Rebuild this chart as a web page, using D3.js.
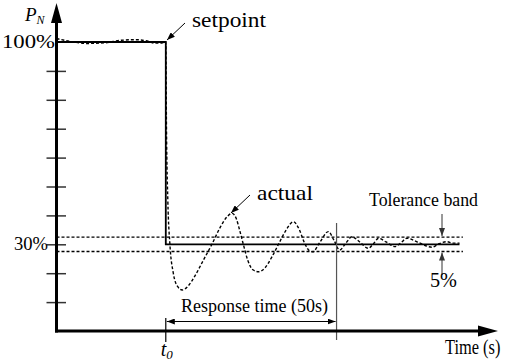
<!DOCTYPE html>
<html>
<head>
<meta charset="utf-8">
<script src="https://cdn.jsdelivr.net/npm/d3@7"></script>
<style>
  html, body { margin: 0; padding: 0; background: #fff; }
  svg { display: block; }
  svg text { font-family: "Liberation Serif", "Tinos", "Times New Roman", "DejaVu Serif", serif; fill: #000; }
</style>
</head>
<body>
<svg id="chart" width="505" height="362"></svg>
<script>
// Step response of normalised power P_N after a setpoint change at t0.
const t0 = 32;                 // s, time of the setpoint step
const responseTime = 50;       // s, until the response stays inside the band
const setpointBefore = 100;    // %
const setpointAfter = 30;      // %
const bandWidth = 5;           // %, full width of the tolerance band
const timeEnd = 118;           // s, end of the plotted setpoint / response

const yTickValues = [10, 20, 30, 40, 50, 60, 70, 80, 90];
const yLabelValues = [100, 30];
const yLabelText = ["100%", "30%"];

// Measured actual response (time in s, P_N in %)
const actualTime = [0, 4, 9, 14, 19, 23, 27, 28.5, 30.5, 32,
  32.2, 32.6, 33.2, 34.2, 35.4, 36.8, 38.5, 40.5, 43, 45.5, 48, 50, 51.4,
  52.6, 53.6, 54.7, 56, 57.5, 59.2, 61, 63, 65, 67, 69.4, 70.8, 72.8, 74,
  75.1, 77, 79.6, 81.2, 82.9, 84.5, 86.5, 88.8, 91.3, 92.8, 94.3, 96.5,
  99.1, 100.8, 102.6, 106, 109.9, 112, 114.3, 116, 118];
const actualValue = [101.2, 100.2, 99.5, 99.7, 100.6, 100.8, 100.2, 99.6, 99.6, 100,
  70, 45, 30, 20, 15.5, 14.2, 15.5, 19, 24.5, 30, 36, 39.6, 40.7,
  39, 35, 30, 24.5, 21.2, 20.5, 21.8, 25.5, 30, 34.5, 37.8, 35.8, 30, 27.8,
  27.4, 30.5, 34.4, 31.5, 28, 30, 32.6, 30.8, 28.6, 30.2, 32.1, 30.8,
  29.2, 30.5, 32.1, 30.6, 29, 30.2, 30.9, 30.4, 30.4];

const setpointTime = [0, t0, t0, timeEnd];
const setpointValue = [setpointBefore, setpointBefore, setpointAfter, setpointAfter];

const svg = d3.select("#chart");

const x = d3.scaleLinear().domain([0, 124]).range([56.5, 480]);
const y = d3.scaleLinear().domain([0, 100]).range([331, 42]);

// arrowhead markers
const defs = svg.append("defs");
function marker(id, w, h, color) {
  defs.append("marker")
    .attr("id", id)
    .attr("viewBox", `0 0 ${w} ${h}`)
    .attr("refX", w).attr("refY", h / 2)
    .attr("markerWidth", w).attr("markerHeight", h)
    .attr("markerUnits", "userSpaceOnUse")
    .attr("orient", "auto-start-reverse")
    .append("path")
    .attr("d", `M0,0L${w},${h / 2}L0,${h}Z`)
    .attr("fill", color);
}
marker("arr", 8, 6, "#000");
marker("arrGray", 8, 6, "#333");

// tolerance band
const band = [setpointAfter + bandWidth / 2, setpointAfter - bandWidth / 2];
svg.selectAll("line.band").data(band).join("line")
  .attr("class", "band")
  .attr("x1", x(0)).attr("x2", x(119))
  .attr("y1", d => y(d)).attr("y2", d => y(d))
  .attr("stroke", "#000").attr("stroke-width", 1.4)
  .attr("stroke-dasharray", "3,2");

// y axis ticks crossing the axis
const yAxis = d3.axisLeft(y).tickValues(yTickValues).tickSize(0).tickFormat("");
const gy = svg.append("g").attr("transform", `translate(${x(0)},0)`).call(yAxis);
gy.select(".domain").remove();
gy.selectAll(".tick line")
  .attr("x1", -10).attr("x2", 9.5)
  .attr("stroke", "#333").attr("stroke-width", 1.5);

// setpoint
const line = d3.line().x(d => x(d[0])).y(d => y(d[1]));
svg.append("path")
  .datum(d3.zip(setpointTime, setpointValue))
  .attr("d", line)
  .attr("fill", "none").attr("stroke", "#000").attr("stroke-width", 1.8);

// actual response
const smooth = d3.line().x(d => x(d[0])).y(d => y(d[1])).curve(d3.curveMonotoneX);
svg.append("path")
  .datum(d3.zip(actualTime, actualValue))
  .attr("d", smooth)
  .attr("fill", "none").attr("stroke", "#000").attr("stroke-width", 1.4)
  .attr("stroke-dasharray", "3,2");

// end of response time
svg.append("line")
  .attr("x1", x(t0 + responseTime)).attr("x2", x(t0 + responseTime))
  .attr("y1", 223).attr("y2", 340)
  .attr("stroke", "#555").attr("stroke-width", 1.2);

// t0 marker
svg.append("line")
  .attr("x1", x(t0)).attr("x2", x(t0))
  .attr("y1", 318).attr("y2", 342)
  .attr("stroke", "#000").attr("stroke-width", 1.2);

// response time double arrow
svg.append("line")
  .attr("x1", x(t0) + 1).attr("x2", x(t0 + responseTime) - 1)
  .attr("y1", 321.5).attr("y2", 321.5)
  .attr("stroke", "#000").attr("stroke-width", 1)
  .attr("marker-start", "url(#arr)").attr("marker-end", "url(#arr)");

// main axes with arrowheads
svg.append("line")
  .attr("x1", x(0)).attr("x2", x(0)).attr("y1", y(0) + 1.5).attr("y2", 22)
  .attr("stroke", "#000").attr("stroke-width", 3);
svg.append("path")
  .attr("d", `M${x(0)},3L${x(0) + 5.5},23L${x(0) - 5.5},23Z`).attr("fill", "#000");
svg.append("line")
  .attr("x1", x(0) - 1.5).attr("x2", 480).attr("y1", y(0)).attr("y2", y(0))
  .attr("stroke", "#000").attr("stroke-width", 3);
svg.append("path")
  .attr("d", `M498,${y(0)}L478,${y(0) - 5.5}L478,${y(0) + 5.5}Z`).attr("fill", "#000");

// y labels
svg.selectAll("text.ylab").data(yLabelValues).join("text")
  .attr("class", "ylab")
  .attr("x", (d, i) => i === 0 ? 2 : 14)
  .attr("y", d => y(d) + 6)
  .attr("font-size", 19)
  .attr("textLength", (d, i) => i === 0 ? 53 : 34)
  .attr("lengthAdjust", "spacingAndGlyphs")
  .text((d, i) => yLabelText[i]);

// axis titles
const pn = svg.append("text").attr("x", 25).attr("y", 21).attr("font-size", 19).attr("font-style", "italic");
pn.append("tspan").text("P");
pn.append("tspan").attr("font-size", 12).attr("dy", 3).text("N");

const tt = svg.append("text").attr("x", x(t0) - 5).attr("y", 356).attr("font-size", 20).attr("font-style", "italic");
tt.append("tspan").text("t");
tt.append("tspan").attr("font-size", 13).attr("dy", 3).text("0");

// condensed time label, squeezed horizontally
svg.append("text")
  .attr("transform", "translate(445,354) scale(0.82,1)")
  .attr("font-size", 20).text("Time (s)");

// annotations
svg.append("text").attr("x", 192).attr("y", 27).attr("font-size", 22)
  .attr("textLength", 74).attr("lengthAdjust", "spacingAndGlyphs").text("setpoint");
svg.append("line").attr("x1", 185).attr("y1", 23).attr("x2", 167).attr("y2", 40)
  .attr("stroke", "#000").attr("stroke-width", 1).attr("marker-end", "url(#arr)");

svg.append("text").attr("x", 257).attr("y", 200).attr("font-size", 22)
  .attr("textLength", 56).attr("lengthAdjust", "spacingAndGlyphs").text("actual");
svg.append("line").attr("x1", 250).attr("y1", 195).attr("x2", 231).attr("y2", 213)
  .attr("stroke", "#000").attr("stroke-width", 1).attr("marker-end", "url(#arr)");

svg.append("text").attr("x", 369).attr("y", 206).attr("font-size", 19)
  .attr("textLength", 109).attr("lengthAdjust", "spacingAndGlyphs").text("Tolerance band");
svg.append("line").attr("x1", 442).attr("y1", 214).attr("x2", 442).attr("y2", y(band[0]) - 1)
  .attr("stroke", "#333").attr("stroke-width", 1).attr("marker-end", "url(#arrGray)");
svg.append("line").attr("x1", 442).attr("y1", 275).attr("x2", 442).attr("y2", y(band[1]) + 1)
  .attr("stroke", "#333").attr("stroke-width", 1).attr("marker-end", "url(#arrGray)");
svg.append("text").attr("x", 430).attr("y", 287).attr("font-size", 20)
  .attr("textLength", 27).attr("lengthAdjust", "spacingAndGlyphs").text(bandWidth + "%");

svg.append("text").attr("x", 181).attr("y", 312).attr("font-size", 19)
  .attr("textLength", 147).attr("lengthAdjust", "spacingAndGlyphs")
  .text(`Response time (${responseTime}s)`);
</script>
</body>
</html>
